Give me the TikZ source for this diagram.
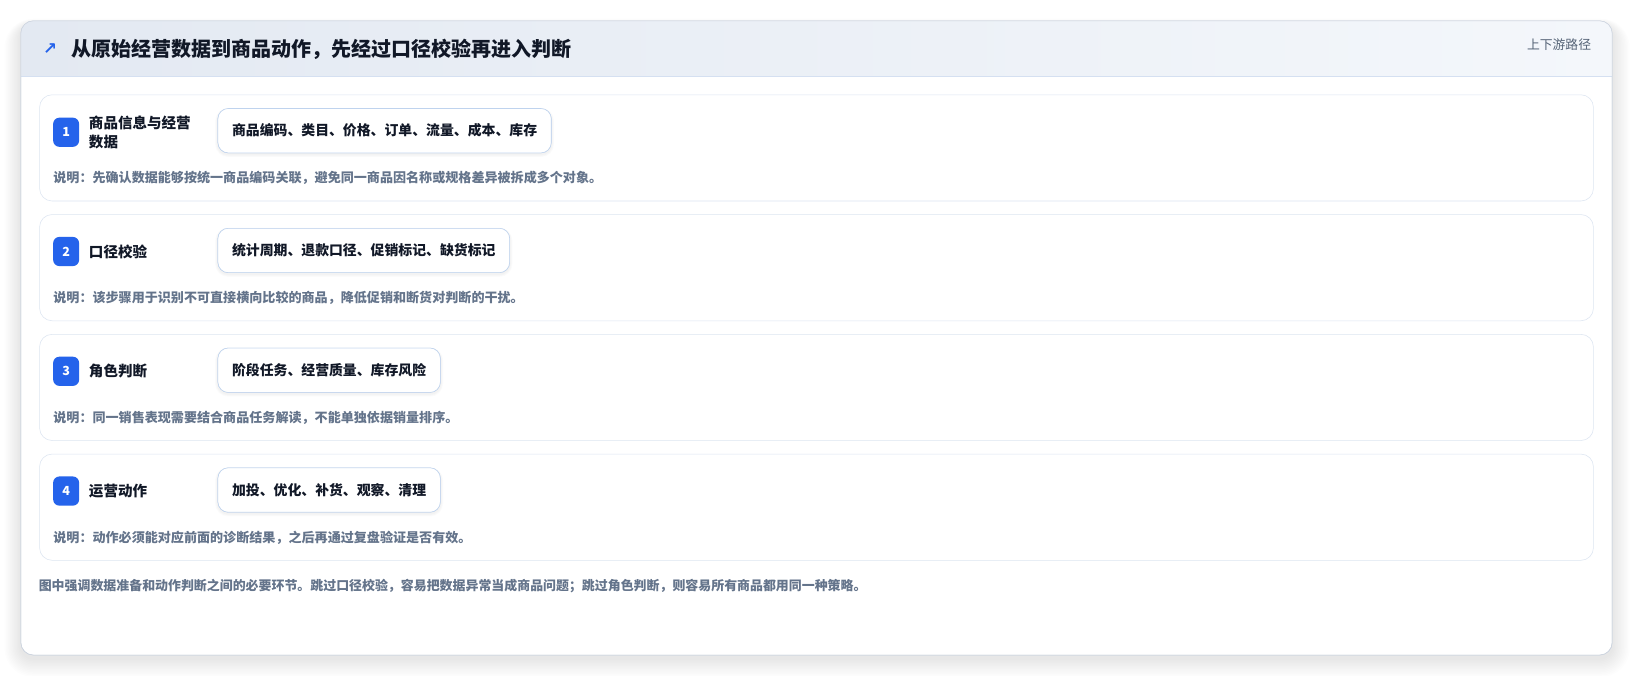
\documentclass[tikz,border=0pt]{standalone}
\usepackage{fontspec}
\setmainfont{Noto Sans CJK SC}
\newfontfamily\symfont{DejaVu Sans}
\usetikzlibrary{positioning}
\definecolor{badgeblue}{HTML}{2563EB}
\definecolor{inkdark}{HTML}{111827}
\definecolor{notegray}{HTML}{64748B}
\definecolor{rowline}{HTML}{DCE5F1}
\definecolor{chipline}{HTML}{BFD3EE}
\definecolor{cardline}{HTML}{CDD4DF}
\definecolor{headleft}{HTML}{E3E9F2}
\definecolor{headright}{HTML}{F4F7FB}
\definecolor{headline}{HTML}{D5E0F1}
\tikzstyle{card}=[draw=cardline, fill=white, rounded corners=9.4pt]
\tikzstyle{rowbox}=[draw=rowline, fill=white, rounded corners=9.4pt]
\tikzstyle{badge}=[rounded corners=4.7pt, fill=badgeblue, text=white, font=\bfseries\fontsize{9.4}{10}\selectfont, minimum width=19.5pt, minimum height=21.9pt, inner sep=0pt]
\tikzstyle{steplabel}=[inner sep=0pt, align=left, text=inkdark, font=\bfseries\fontsize{10.9}{14}\selectfont]
\tikzstyle{chip}=[draw=chipline, fill=white, rounded corners=7.8pt, minimum height=33.3pt, inner xsep=10.6pt, anchor=west, text=inkdark, font=\bfseries\fontsize{10.4}{12}\selectfont]
\tikzstyle{note}=[inner sep=0pt, anchor=west, text=notegray, font=\bfseries\fontsize{9.8}{11}\selectfont]
\tikzstyle{haze}=[fill=black, opacity=#1]

\begin{document}
\begin{tikzpicture}[x=0.7811pt, y=-0.7811pt]
    \useasboundingbox (0,0) rectangle (1568,649);

    % Ombre de la carte
    \foreach \i in {1,...,12}
        \fill[haze=0.009, rounded corners=9.4pt+\i pt] (20-1.3*\i,24-0.5*\i) rectangle (1548+1.4*\i,632+1.5*\i);

    % Carte
    \draw[card] (20,20) rectangle (1548,629);
    \begin{scope}
        \clip[rounded corners=9.4pt] (20,20) rectangle (1548,629);
        \shade[left color=headleft, right color=headright] (20,20) rectangle (1548,73);
    \end{scope}
    \draw[headline] (20.5,73) -- (1547.5,73);
    \draw[cardline, rounded corners=9.4pt] (20,20) rectangle (1548,629);

    % Titre
    \node[text=badgeblue, font=\symfont\bfseries\fontsize{12.5}{12.5}\selectfont, inner sep=0pt] (icon) at (48,47) {↗};
    \node[anchor=west, inner sep=0pt, text=inkdark, font=\bfseries\fontsize{15}{17}\selectfont] (title) at (68,47) {从原始经营数据到商品动作，先经过口径校验再进入判断};
    \node[anchor=east, inner sep=0pt, text=notegray!85!black, font=\fontsize{9.6}{11}\selectfont] (tag) at (1528,43) {上下游路径};

    % Etapes
    \draw[rowbox] (38,91) rectangle (1530,193);
    \node[badge] (b1) at (63.5,127) {1};
    \node[steplabel, right=7pt of b1] (l1) {商品信息与经营\\数据};
    \node[chip] (c1) at (209,125.5) {商品编码、类目、价格、订单、流量、成本、库存};
    \node[note] (n1) at (51,171) {说明：先确认数据能够按统一商品编码关联，避免同一商品因名称或规格差异被拆成多个对象。};

    \draw[rowbox] (38,206) rectangle (1530,308);
    \node[badge] (b2) at (63.5,241.5) {2};
    \node[steplabel, right=7pt of b2] (l2) {口径校验};
    \node[chip] (c2) at (209,240.5) {统计周期、退款口径、促销标记、缺货标记};
    \node[note] (n2) at (51,286) {说明：该步骤用于识别不可直接横向比较的商品，降低促销和断货对判断的干扰。};

    \draw[rowbox] (38,321) rectangle (1530,423);
    \node[badge] (b3) at (63.5,356.5) {3};
    \node[steplabel, right=7pt of b3] (l3) {角色判断};
    \node[chip] (c3) at (209,355.5) {阶段任务、经营质量、库存风险};
    \node[note] (n3) at (51,401) {说明：同一销售表现需要结合商品任务解读，不能单独依据销量排序。};

    \draw[rowbox] (38,436) rectangle (1530,538);
    \node[badge] (b4) at (63.5,471.5) {4};
    \node[steplabel, right=7pt of b4] (l4) {运营动作};
    \node[chip] (c4) at (209,470.5) {加投、优化、补货、观察、清理};
    \node[note] (n4) at (51,516) {说明：动作必须能对应前面的诊断结果，之后再通过复盘验证是否有效。};

    % Ombre des etiquettes
    \foreach \c in {c1,c2,c3,c4}
        \foreach \i in {1,...,4}
            \fill[haze=0.012, rounded corners=7.8pt+0.5*\i pt] ([xshift=-0.5*\i pt, yshift=-1pt-0.5*\i pt]\c.south west) rectangle ([xshift=0.5*\i pt, yshift=-1pt+0.3*\i pt]\c.north east);
    \foreach \c/\t in {c1/商品编码、类目、价格、订单、流量、成本、库存, c2/统计周期、退款口径、促销标记、缺货标记, c3/阶段任务、经营质量、库存风险, c4/加投、优化、补货、观察、清理}
        \node[chip, anchor=center] at (\c.center) {\t};

    % Pied
    \node[note, font=\bfseries\fontsize{9.7}{11}\selectfont] (foot) at (37,563) {图中强调数据准备和动作判断之间的必要环节。跳过口径校验，容易把数据异常当成商品问题；跳过角色判断，则容易所有商品都用同一种策略。};
\end{tikzpicture}
\end{document}
